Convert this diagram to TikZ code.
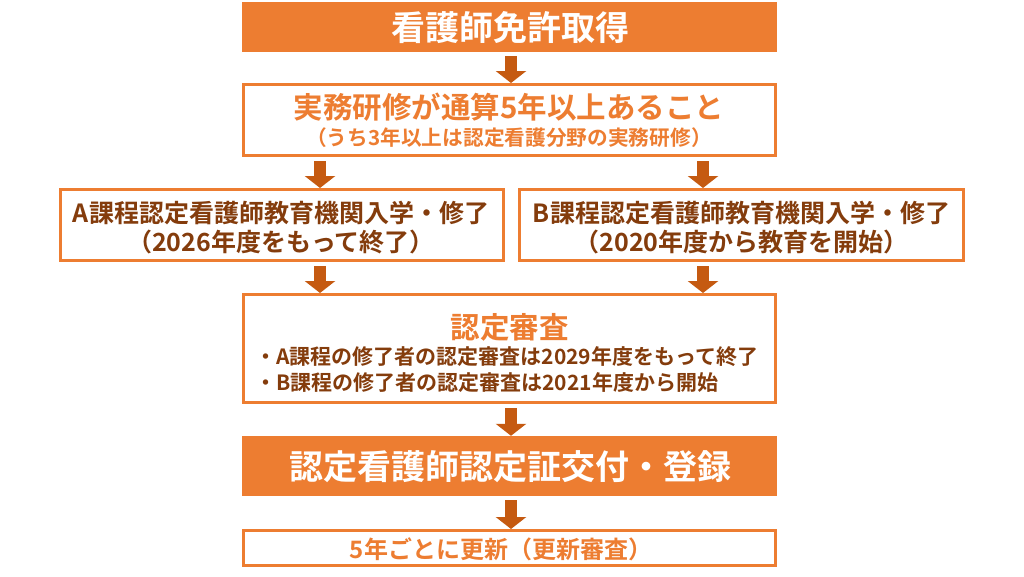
\documentclass[tikz,border=0pt]{standalone}
\usepackage{fontspec}
\setmainfont{Noto Sans CJK JP}[BoldFont={* Bold}]
\usetikzlibrary{arrows.meta}
\definecolor{orfill}{HTML}{ED7D31}
\definecolor{arrowc}{HTML}{C55A11}
\definecolor{browntx}{HTML}{843C0C}
\tikzset{
  fillbox/.style={fill=orfill, inner sep=0pt},
  linebox/.style={draw=orfill, line width=3pt, fill=white, inner sep=0pt},
  barrow/.style={draw=arrowc, line width=12pt, shorten <=4pt,
     -{Triangle[width=30pt,length=12pt]}},
  wtitle/.style={text=white, font=\bfseries\fontsize{34}{38}\selectfont, inner sep=0pt},
  otitle/.style={text=orfill, font=\bfseries\fontsize{29.5}{34}\selectfont, inner sep=0pt},
  osub/.style={text=orfill, font=\bfseries\fontsize{20.7}{24}\selectfont, inner sep=0pt},
  btext/.style={text=browntx, font=\bfseries\fontsize{25}{28}\selectfont, inner sep=0pt},
  bbullet/.style={text=browntx, font=\bfseries\fontsize{21}{25}\selectfont, inner sep=0pt, anchor=west},
}
\begin{document}
\begin{tikzpicture}[x=1pt,y=-1pt]
\useasboundingbox (0,0) rectangle (1024,576);
\fill[white] (0,0) rectangle (1024,576);
% boxes
\node[fillbox, minimum width=535pt, minimum height=50pt] (top) at (509.5,27) {};
\node[linebox, minimum width=532pt, minimum height=71pt] (jitsumu) at (509.5,120) {};
\node[linebox, minimum width=443pt, minimum height=71pt] (boxa) at (282,225) {};
\node[linebox, minimum width=444pt, minimum height=71pt] (boxb) at (741.5,225) {};
\node[linebox, minimum width=532pt, minimum height=108pt] (shinsa) at (509.5,348.5) {};
\node[fillbox, minimum width=535pt, minimum height=60pt] (toroku) at (509.5,466) {};
\node[linebox, minimum width=532pt, minimum height=35pt] (koshin) at (509.5,548) {};
% texts
\node[wtitle] (ttop) at (510,28) {看護師免許取得};
\node[otitle] (tj1) at (509,107) {実務研修が通算5年以上あること};
\node[osub] (tj2) at (509,138) {（うち3年以上は認定看護分野の実務研修）};
\node[btext] (ta1) at (281,213) {A課程認定看護師教育機関入学・修了};
\node[btext] (ta2) at (281,242) {（2026年度をもって終了）};
\node[btext] (tb1) at (741.5,213) {B課程認定看護師教育機関入学・修了};
\node[btext] (tb2) at (741.5,242) {（2020年度から教育を開始）};
\node[otitle] (ts0) at (509.5,327) {認定審査};
\node[bbullet] (ts1) at (255,357) {・A課程の修了者の認定審査は2029年度をもって終了};
\node[bbullet] (ts2) at (255,383) {・B課程の修了者の認定審査は2021年度から開始};
\node[wtitle] (tt) at (510,467) {認定看護師認定証交付・登録};
\node[osub, font=\bfseries\fontsize{24}{28}\selectfont] (tk) at (501,549) {5年ごとに更新（更新審査）};
% arrow columns
\coordinate (cm) at (511,0);
\coordinate (cl) at (320,0);
\coordinate (cr) at (703,0);
% arrows
\draw[barrow] (top.south -| cm) -- (jitsumu.north -| cm);
\draw[barrow] (jitsumu.south -| cl) -- (boxa.north -| cl);
\draw[barrow] (jitsumu.south -| cr) -- (boxb.north -| cr);
\draw[barrow] (boxa.south -| cl) -- (shinsa.north -| cl);
\draw[barrow] (boxb.south -| cr) -- (shinsa.north -| cr);
\draw[barrow] (shinsa.south -| cm) -- (toroku.north -| cm);
\draw[barrow] (toroku.south -| cm) -- (koshin.north -| cm);
\end{tikzpicture}
\end{document}
